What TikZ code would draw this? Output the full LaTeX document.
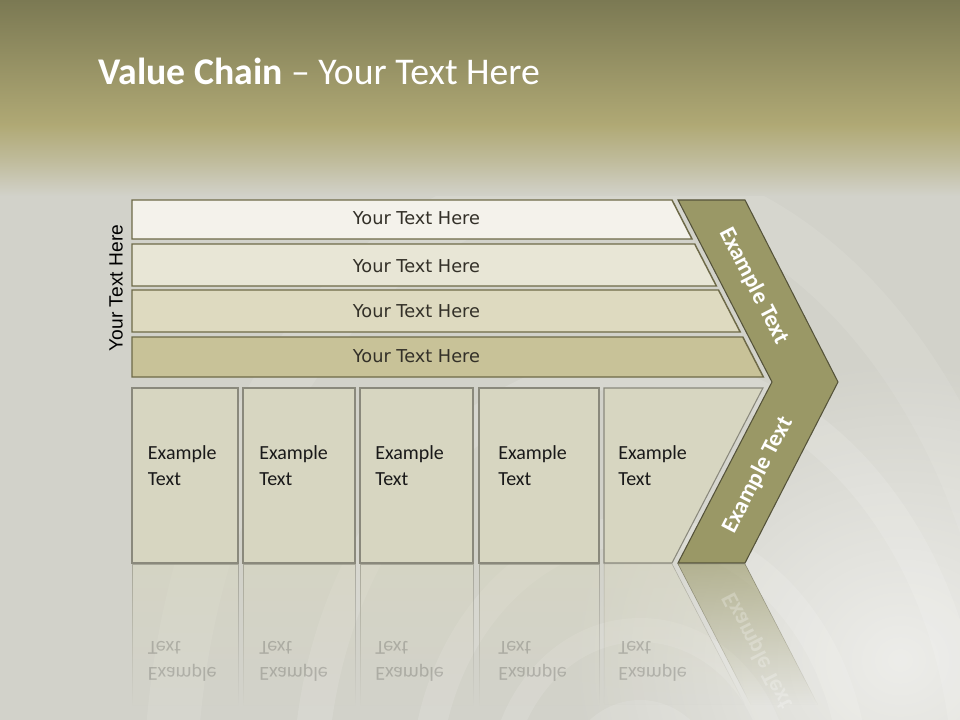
\documentclass[tikz,border=0pt]{standalone}
\usepackage{fontspec}
\setmainfont{Carlito}
\newfontfamily\barfont{DejaVu Sans}
\newfontfamily\sidefont{Liberation Sans}
\usetikzlibrary{fadings}
\definecolor{titletop}{HTML}{7B7953}
\definecolor{titlemid}{HTML}{B0A975}
\definecolor{bgbase}{HTML}{D2D2CA}
\definecolor{barA}{HTML}{F4F2EB}
\definecolor{barB}{HTML}{E8E6D6}
\definecolor{barC}{HTML}{DEDAC0}
\definecolor{barD}{HTML}{C8C298}
\definecolor{barline}{HTML}{6E6A48}
\definecolor{boxfill}{HTML}{D7D6C1}
\definecolor{boxline}{HTML}{8A897C}
\definecolor{chevfill}{HTML}{9A9866}
\definecolor{chevline}{HTML}{55533A}
\definecolor{bartext}{HTML}{333028}
\tikzfading[name=radfade, inner color=transparent!0, outer color=transparent!100]
\tikzfading[name=reflfade, top color=transparent!40, bottom color=transparent!100]
\begin{document}
\begin{tikzpicture}[x=0.75pt,y=-0.75pt,
  barshape/.style={draw=barline, line width=1.1pt},
  boxshape/.style={draw=boxline, fill=boxfill, line width=0.8pt},
  bartxt/.style={font=\barfont\fontsize{13.3}{16}\selectfont, text=bartext, inner sep=0pt, anchor=base},
  boxtxt/.style={font=\fontsize{15}{19.5}\selectfont, text=black!90, inner sep=0pt, anchor=base west, text width=80pt, align=left},
  chevtxt/.style={font=\bfseries\fontsize{17.5}{20}\selectfont, text=white, inner sep=0pt},
  refltxt/.style={font=\fontsize{15}{19.5}\selectfont, text=black, text opacity=0.18, inner sep=0pt, anchor=base west, text width=80pt, align=left, yscale=-1},
  deco/.style={draw=white, opacity=0.13}
]
\useasboundingbox (0,0) rectangle (960,720);
% ---------- background ----------
\fill[bgbase] (0,0) rectangle (960,720);
\fill[white, opacity=0.6, path fading=radfade] (900,660) ellipse (330 and 300);
\begin{scope}
\clip (0,190) rectangle (960,720);
\draw[deco, line width=26pt] (640,790) ellipse (330 and 420);
\draw[deco, line width=22pt] (640,790) ellipse (215 and 260);
\draw[deco, line width=18pt] (640,790) ellipse (140 and 160);
\draw[deco, line width=40pt, opacity=0.09] (600,800) ellipse (430 and 620);
\fill[white, opacity=0.12] (640,790) ellipse (80 and 90);
\end{scope}
\shade[top color=titletop, bottom color=titlemid] (0,0) rectangle (960,126);
\shade[top color=titlemid, bottom color=bgbase, middle color=titlemid!55!bgbase] (0,125) rectangle (960,196);
% ---------- title ----------
\node[anchor=base west, inner sep=0pt, text=white, font=\fontsize{28.3}{33}\selectfont] (title) at (98,85) {\textbf{Value Chain} – Your Text Here};
% ---------- reflection ----------
\foreach \xa/\xb [count=\i] in {132/238, 243/355, 360/473, 479/599} {
  \path[fill=boxfill, draw=boxline, path fading=reflfade] (\xa,564) rectangle (\xb,705);
}
\path[fill=boxfill, draw=boxline, path fading=reflfade] (604,564) -- (672,564) -- (745,705) -- (604,705) -- cycle;
\path[fill=chevfill, draw=chevline, path fading=reflfade] (678,564) -- (745,564) -- (818,705) -- (751,705) -- cycle;
\foreach \xx [count=\i] in {147.7, 259, 375, 498, 618} {
  \node[refltxt] (r\i) at (\xx,667) {Example\\Text};
}
\node[chevtxt, rotate=-62.7, yscale=-1, text opacity=0.25] (rchev) at (758,651) {Example Text};
% ---------- bars ----------
\path[barshape, fill=barA] (132,200) -- (672,200) -- (692,239) -- (132,239) -- cycle;
\path[barshape, fill=barB] (132,244) -- (694.7,244) -- (716.4,286) -- (132,286) -- cycle;
\path[barshape, fill=barC] (132,290) -- (718.5,290) -- (740.2,332) -- (132,332) -- cycle;
\path[barshape, fill=barD] (132,337) -- (742.8,337) -- (763.4,377) -- (132,377) -- cycle;
\node[bartxt] (b1) at (416.5,225) {Your Text Here};
\node[bartxt] (b2) at (416.5,272.5) {Your Text Here};
\node[bartxt] (b3) at (416.5,317.5) {Your Text Here};
\node[bartxt] (b4) at (416.5,362.5) {Your Text Here};
% ---------- side label ----------
\node[rotate=90, inner sep=0pt, font=\sidefont\fontsize{14.4}{17}\selectfont, text=black] (side) at (116,288) {Your Text Here};
% ---------- boxes ----------
\path[boxshape] (132,388) rectangle (238,563);
\path[boxshape] (243,388) rectangle (355,563);
\path[boxshape] (360,388) rectangle (473,563);
\path[boxshape] (479,388) rectangle (599,563);
\path[boxshape] (604,388) -- (762.9,388) -- (672,563) -- (604,563) -- cycle;
\foreach \xx [count=\i] in {147.7, 259, 375, 498, 618} {
  \node[boxtxt] (t\i) at (\xx,459) {Example\\Text};
}
% ---------- chevron ----------
\path[fill=chevfill, draw=chevline, line width=0.8pt] (678,200) -- (745,200) -- (838,382) -- (745,563) -- (678,563) -- (772,382) -- cycle;
\node[chevtxt, rotate=-62.7] (c1) at (754,286) {Example Text};
\node[chevtxt, rotate=62.7] (c2) at (758,475) {Example Text};
\end{tikzpicture}
\end{document}
